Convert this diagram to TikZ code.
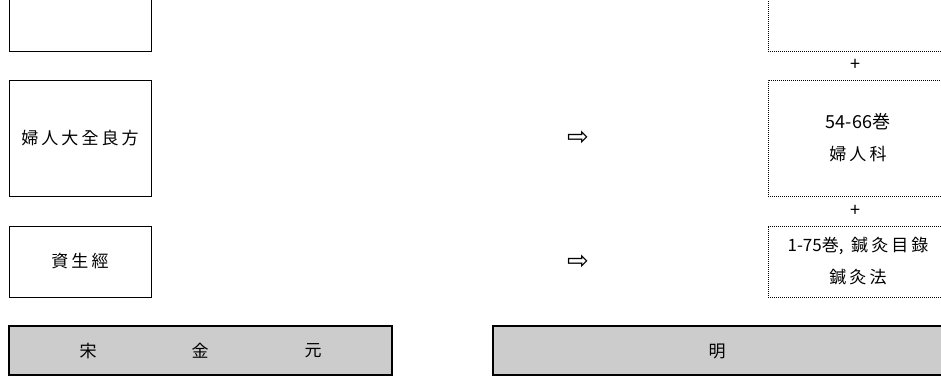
\documentclass[tikz,border=0pt]{standalone}
\usepackage{fontspec}
\usepackage{xcolor}
\setmainfont{Noto Sans CJK KR}
\newfontfamily\krfont[LetterSpace=18]{Noto Sans CJK KR}
\newfontfamily\symfont{DejaVu Sans}
\usetikzlibrary{positioning}
\definecolor{barfill}{HTML}{CCCCCC}

\begin{document}
\begin{tikzpicture}[x=1pt, y=-1pt, font=\fontsize{17}{32}\selectfont,
    srcbox/.style={draw, line width=1pt, align=center, inner sep=0pt, minimum width=142pt},
    tgtbox/.style={draw, line width=0.8pt, dash pattern=on 0.8pt off 1.2pt, align=center, inner sep=0pt, minimum width=180pt},
    plus/.style={inner sep=0pt, font=\fontsize{18}{18}\selectfont},
    turn/.style={inner sep=0pt, font=\symfont\fontsize{26}{26}\selectfont},
    era/.style={draw, line width=2pt, fill=barfill, inner sep=0pt, minimum height=49pt}]

  \clip (0,0) rectangle (941,376);
  \useasboundingbox (0,0) rectangle (941,376);

  % --- left: source books ---
  \node[srcbox, minimum height=61pt] (src1) at (80,20.5) {};
  \node[srcbox, minimum height=116pt] (src2) at (80,138) {\krfont 婦人大全良方};
  \node[srcbox, minimum height=71pt] (src3) at (80,261.5) {\krfont 資生經};

  % --- right: compiled volumes ---
  \node[tgtbox, minimum height=61pt] (tgt1) at (858,20.5) {};
  \node[tgtbox, minimum height=116pt] (tgt2) at (858,138) {{\fontsize{18}{32}\selectfont 54-66巻}\\\krfont 婦人科};
  \node[tgtbox, minimum height=71pt] (tgt3) at (858,261.5) {1-75巻,\ \ {\krfont 鍼灸目錄}\\\krfont 鍼灸法};

  \node[plus] (p1) at (855,65) {+};
  \node[plus] (p2) at (855,211) {+};

  % --- transfer marks ---
  \node[turn] (t2) at (578,138) {⇨};
  \node[turn] (t3) at (578,262) {⇨};

  % --- bottom: dynasties ---
  \node[era, minimum width=383pt] (early) at (200.5,350.5) {};
  \node (song) at (88,351) {宋};
  \node (jin) at (200,351) {金};
  \node (yuan) at (313,351) {元};
  \node[era, minimum width=457pt] (ming) at (721.5,350.5) {};
  \node (mingtxt) at (717,351) {明};
\end{tikzpicture}
\end{document}
